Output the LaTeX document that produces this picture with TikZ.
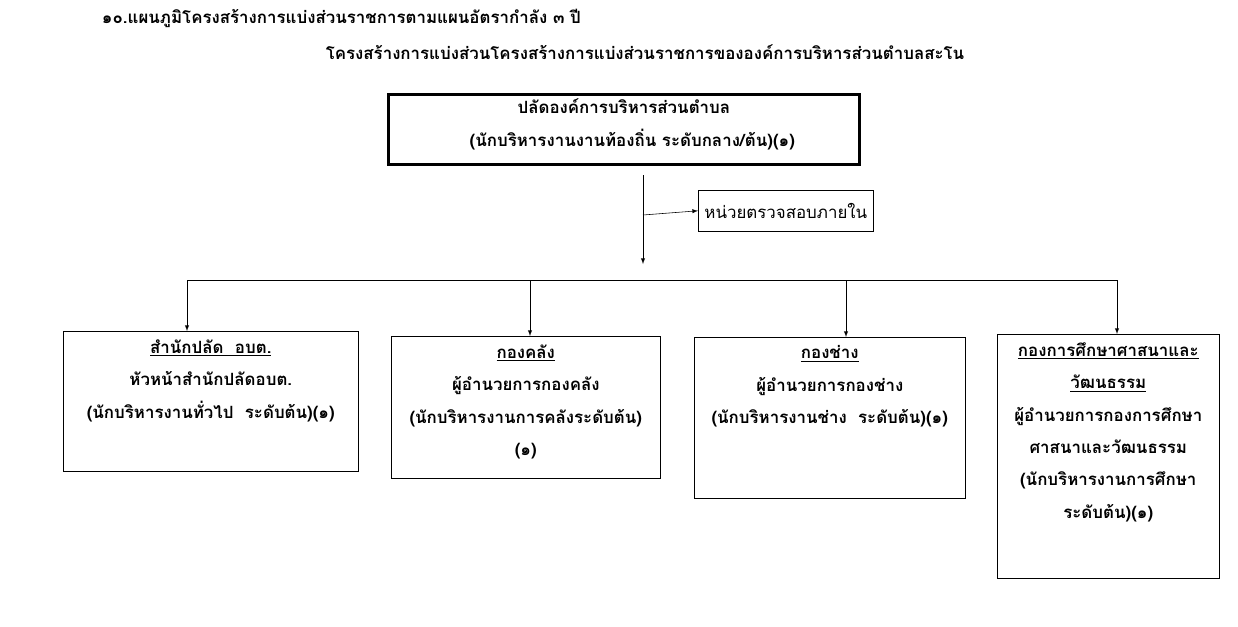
\documentclass[tikz,border=0pt]{standalone}
\usepackage{fontspec}
\newfontfamily\thaifont[Script=Thai]{Loma}
\usetikzlibrary{positioning}
\begin{document}
\begin{tikzpicture}[x=0.025cm, y=-0.025cm, font=\thaifont\bfseries\fontsize{12}{23}\selectfont, >=latex]
    \tikzset{unit/.style={draw, anchor=north west, inner sep=0pt},
             unittext/.style={anchor=north, align=center, inner sep=0pt, yshift=-6pt}}
    \useasboundingbox (0,0) rectangle (1238,626);

    % titles
    \node[anchor=west] (title) at (97,18) {๑๐.แผนภูมิโครงสร้างการแบ่งส่วนราชการตามแผนอัตรากำลัง ๓ ปี};
    \node (subtitle) at (645,52) {โครงสร้างการแบ่งส่วนโครงสร้างการแบ่งส่วนราชการขององค์การบริหารส่วนตำบลสะโน};

    % head and audit
    \node[unit, line width=2pt, minimum width=471*0.025cm, minimum height=70*0.025cm,
          label={[unittext, yshift=2pt]north:ปลัดองค์การบริหารส่วนตำบล\\ \quad(นักบริหารงานงานท้องถิ่น ระดับกลาง/ต้น)(๑)}] (head) at (387,93) {};
    \node[unit, minimum width=175*0.025cm, minimum height=41*0.025cm, font=\thaifont\fontsize{12}{14}\selectfont] (audit) at (698,190) {หน่วยตรวจสอบภายใน};

    \coordinate (top) at (643,175);
    \coordinate (mid) at (643,215);
    \coordinate (low) at (643,264);
    \draw[->] (top) -- (low);
    \draw[->] (mid) -- (audit.west);

    % divisions
    \node[unit, minimum width=295*0.025cm, minimum height=140*0.025cm,
          label={[unittext]north:\underline{สำนักปลัด\ \ อบต.}\\ หัวหน้าสำนักปลัดอบต.\\ (นักบริหารงานทั่วไป\ \ ระดับต้น)(๑)}] (office) at (63,331) {};
    \node[unit, minimum width=269*0.025cm, minimum height=142*0.025cm,
          label={[unittext]north:\underline{กองคลัง}\\ ผู้อำนวยการกองคลัง\\ (นักบริหารงานการคลังระดับต้น)\\ (๑)}] (finance) at (391,336) {};
    \node[unit, minimum width=271*0.025cm, minimum height=161*0.025cm,
          label={[unittext]north:\underline{กองช่าง}\\ ผู้อำนวยการกองช่าง\\ (นักบริหารงานช่าง\ \ ระดับต้น)(๑)}] (works) at (694,337) {};
    \node[unit, minimum width=222*0.025cm, minimum height=244*0.025cm,
          label={[unittext]north:\underline{กองการศึกษาศาสนาและ}\\ \underline{วัฒนธรรม}\\ ผู้อำนวยการกองการศึกษา\\ ศาสนาและวัฒนธรรม\\ (นักบริหารงานการศึกษา\\ ระดับต้น)(๑)}] (edu) at (997,334) {};

    \foreach \N/\X in {office/187, finance/530, works/846, edu/1117} {
        \coordinate (bar\N) at (\X,280);
        \draw[->] (bar\N) -- (\N.north -| bar\N);
    }
    \draw (baroffice) -- (baredu);
\end{tikzpicture}
\end{document}
